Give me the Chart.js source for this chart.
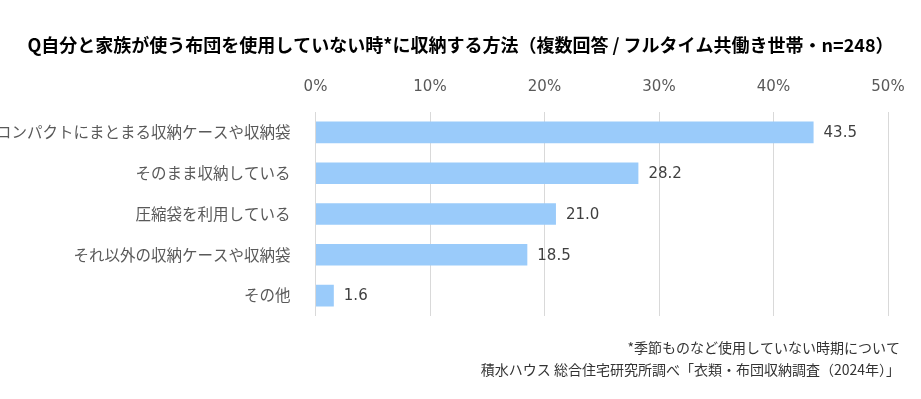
<!DOCTYPE html>
<html>
<head>
<meta charset="utf-8">
<script src="https://cdn.jsdelivr.net/npm/chart.js@4.4.1/dist/chart.umd.min.js"></script>
<style>
  html, body { margin: 0; padding: 0; background: #fff; }
  #wrap { width: 921px; height: 399px; position: relative; }
</style>
</head>
<body>
<div id="wrap"><canvas id="c" width="921" height="399"></canvas></div>
<script>
const titleText = 'Q自分と家族が使う布団を使用していない時*に収納する方法（複数回答 / フルタイム共働き世帯・n=248）';
const categories = ['コンパクトにまとまる収納ケースや収納袋', 'そのまま収納している', '圧縮袋を利用している', 'それ以外の収納ケースや収納袋', 'その他'];
const values = [43.5, 28.2, 21.0, 18.5, 1.6];
const tickValues = [0, 10, 20, 30, 40, 50];
const footerLines = ['*季節ものなど使用していない時期について', '積水ハウス 総合住宅研究所調べ「衣類・布団収納調査（2024年）」'];

const JP = '"DejaVu Sans", "Noto Sans CJK JP", sans-serif';
const JPONLY = '"Noto Sans CJK JP", sans-serif';
const TITLE_SIZE = 18;
const TITLE_PAD_TOP = 34;
const TITLE_PAD_BOTTOM = 8;

const valueLabels = {
  id: 'valueLabels',
  afterDatasetsDraw(chart) {
    const ctx = chart.ctx;
    const meta = chart.getDatasetMeta(0);
    ctx.save();
    ctx.font = '15px ' + JP;
    ctx.fillStyle = '#404040';
    ctx.textAlign = 'left';
    ctx.textBaseline = 'middle';
    meta.data.forEach((bar, i) => {
      ctx.fillText(values[i].toFixed(1), bar.x + 10, bar.y + 1);
    });
    ctx.restore();
  }
};

const footer = {
  id: 'footer',
  afterDraw(chart) {
    const ctx = chart.ctx;
    ctx.save();
    ctx.font = '14px ' + JPONLY;
    ctx.fillStyle = '#333333';
    ctx.textAlign = 'right';
    ctx.textBaseline = 'middle';
    ctx.fillText(footerLines[0], 900, 348);
    ctx.fillText(footerLines[1], 900, 370);
    ctx.restore();
  }
};

new Chart(document.getElementById('c'), {
  type: 'bar',
  data: {
    labels: categories,
    datasets: [{
      data: values,
      backgroundColor: '#9ACBFA',
      borderWidth: 0,
      categoryPercentage: 1.0,
      barPercentage: 0.53
    }]
  },
  plugins: [valueLabels, footer],
  options: {
    indexAxis: 'y',
    responsive: false,
    animation: false,
    layout: { padding: { left: 0, right: 0, top: 0, bottom: 83 } },
    plugins: {
      legend: { display: false },
      tooltip: { enabled: false },
      title: {
        display: true,
        text: titleText,
        color: '#000000',
        font: { family: JPONLY, size: TITLE_SIZE, weight: 'bold' },
        padding: { top: TITLE_PAD_TOP, bottom: TITLE_PAD_BOTTOM }
      }
    },
    scales: {
      x: {
        position: 'top',
        min: 0,
        max: 50,
        afterBuildTicks(scale) { scale.ticks = tickValues.map(v => ({ value: v })); },
        afterFit(scale) {
          scale.height = 112 - (TITLE_PAD_TOP + TITLE_SIZE * 1.2 + TITLE_PAD_BOTTOM);
          scale.paddingRight = 33;
          scale.paddingLeft = 0;
        },
        grid: { color: '#D9D9D9', drawTicks: false, lineWidth: 1 },
        border: { display: false },
        ticks: {
          color: '#595959',
          font: { family: JP, size: 15 },
          padding: 16,
          callback: v => v + '%'
        }
      },
      y: {
        afterFit(scale) { scale.width = 315.5; },
        grid: { display: false },
        border: { display: false },
        ticks: {
          color: '#595959',
          font: { family: JPONLY, size: 15.5 },
          padding: 17
        }
      }
    }
  }
});
</script>
</body>
</html>
